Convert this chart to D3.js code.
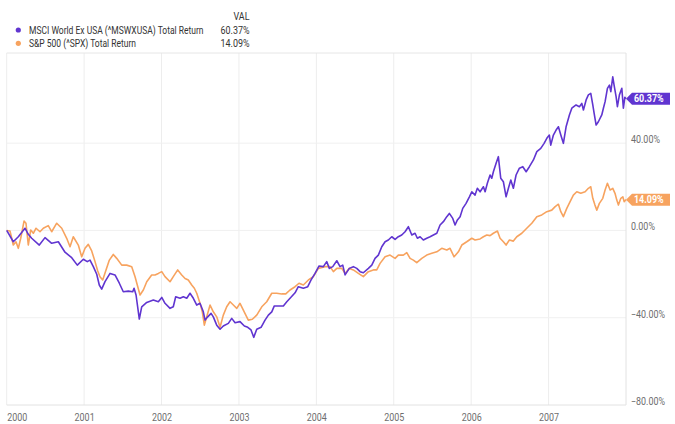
<!DOCTYPE html>
<html><head><meta charset="utf-8">
<script src="https://cdn.jsdelivr.net/npm/d3@7/dist/d3.min.js"></script>
<style>body{margin:0;background:#fff}svg{display:block}</style>
</head><body>
<svg id="chart" width="675" height="424"></svg>
<script>
const yearTicks = [2000,2001,2002,2003,2004,2005,2006,2007];
const yTicks = [-80,-40,0,40];
const seriesNames = ["MSCI World Ex USA (^MSWXUSA) Total Return","S&P 500 (^SPX) Total Return"];
const lastValues = [60.37, 14.09];
const colors = ["#6035d0","#f7a35f"];

const msci = [[2000.000,0],[2000.085,-5.2],[2000.150,-2.9],[2000.236,1.0],[2000.279,-1.8],[2000.323,-3.6],[2000.421,-6.7],[2000.495,-3.3],[2000.581,-5.9],[2000.667,-5.2],[2000.753,-10.0],[2000.840,-12.5],[2000.912,-15.9],[2000.990,-13.2],[2001.041,-14.3],[2001.076,-13.6],[2001.119,-16.6],[2001.163,-20.1],[2001.196,-25.0],[2001.227,-26.9],[2001.270,-23.5],[2001.335,-19.7],[2001.399,-20.4],[2001.455,-24.2],[2001.506,-28.1],[2001.571,-27.8],[2001.628,-28.1],[2001.645,-26.5],[2001.671,-29.6],[2001.713,-40.6],[2001.744,-35.0],[2001.809,-33.0],[2001.894,-31.9],[2001.959,-32.7],[2002.003,-30.7],[2002.045,-33.4],[2002.110,-35.7],[2002.152,-35.0],[2002.183,-30.4],[2002.239,-31.1],[2002.282,-30.4],[2002.326,-31.1],[2002.368,-28.8],[2002.411,-31.1],[2002.455,-34.2],[2002.497,-33.4],[2002.540,-37.3],[2002.562,-41.1],[2002.597,-39.6],[2002.640,-38.0],[2002.669,-39.6],[2002.713,-43.4],[2002.756,-45.3],[2002.798,-43.8],[2002.863,-42.6],[2002.907,-40.3],[2002.950,-42.3],[2003.014,-41.8],[2003.070,-43.8],[2003.114,-44.4],[2003.156,-45.6],[2003.191,-49.0],[2003.230,-45.3],[2003.286,-44.4],[2003.337,-41.1],[2003.380,-38.8],[2003.424,-37.3],[2003.457,-34.6],[2003.509,-34.6],[2003.574,-34.6],[2003.618,-32.7],[2003.660,-31.1],[2003.725,-28.6],[2003.767,-25.8],[2003.832,-26.5],[2003.889,-25.8],[2003.932,-22.7],[2003.983,-19.7],[2004.035,-16.3],[2004.090,-16.6],[2004.134,-14.3],[2004.168,-17.4],[2004.212,-16.6],[2004.264,-13.9],[2004.306,-16.6],[2004.341,-15.9],[2004.371,-20.4],[2004.426,-17.4],[2004.478,-16.6],[2004.522,-17.4],[2004.565,-18.9],[2004.607,-19.4],[2004.672,-17.4],[2004.716,-15.9],[2004.758,-12.8],[2004.801,-11.3],[2004.845,-7.5],[2004.888,-5.2],[2004.930,-4.4],[2004.974,-2.9],[2005.017,-4.1],[2005.059,-2.9],[2005.103,-2.1],[2005.146,-0.6],[2005.189,1.7],[2005.233,-2.1],[2005.275,-1.3],[2005.305,-3.6],[2005.340,-2.9],[2005.382,-4.4],[2005.426,-3.6],[2005.469,-2.9],[2005.512,-2.1],[2005.556,-1.3],[2005.598,2.5],[2005.641,4.0],[2005.685,6.3],[2005.718,7.8],[2005.762,5.5],[2005.792,2.5],[2005.822,4.8],[2005.857,6.3],[2005.891,10.1],[2005.934,12.4],[2005.977,15.4],[2006.008,17.7],[2006.050,16.2],[2006.080,19.3],[2006.115,17.7],[2006.158,20.0],[2006.180,17.7],[2006.209,21.6],[2006.244,25.4],[2006.266,23.9],[2006.287,26.9],[2006.322,30.8],[2006.351,33.8],[2006.382,23.9],[2006.416,22.3],[2006.451,15.4],[2006.481,19.3],[2006.512,23.1],[2006.545,19.3],[2006.580,25.4],[2006.623,28.5],[2006.667,29.2],[2006.710,26.9],[2006.752,29.2],[2006.804,32.3],[2006.848,36.1],[2006.899,37.6],[2006.942,39.9],[2006.977,42.2],[2007.010,43.7],[2007.028,39.1],[2007.062,43.7],[2007.097,46.0],[2007.127,47.5],[2007.158,43.7],[2007.191,39.9],[2007.226,47.5],[2007.269,52.9],[2007.300,56.0],[2007.355,57.5],[2007.398,56.7],[2007.429,58.2],[2007.450,55.2],[2007.485,59.8],[2007.514,62.1],[2007.545,62.8],[2007.571,57.5],[2007.588,53.7],[2007.614,48.3],[2007.643,49.8],[2007.687,52.9],[2007.708,56.0],[2007.730,59.0],[2007.760,65.1],[2007.786,66.6],[2007.804,63.6],[2007.829,70.4],[2007.846,66.6],[2007.872,61.3],[2007.889,56.7],[2007.915,62.1],[2007.946,65.1],[2007.966,56.0],[2007.985,61.0],[2008.000,60.37]];

const spx = [[2000.000,0],[2000.043,-0.3],[2000.065,-3.6],[2000.085,-6.7],[2000.120,-5.2],[2000.150,-8.2],[2000.181,-3.6],[2000.224,4.3],[2000.249,3.3],[2000.279,-6.7],[2000.310,0.2],[2000.344,-1.3],[2000.379,1.0],[2000.430,-0.6],[2000.473,1.0],[2000.537,2.2],[2000.581,-0.6],[2000.646,3.3],[2000.711,1.0],[2000.775,-3.6],[2000.818,-7.5],[2000.860,-2.9],[2000.925,-6.7],[2000.969,-12.1],[2001.012,-8.2],[2001.054,-6.4],[2001.098,-9.4],[2001.141,-14.3],[2001.176,-18.6],[2001.205,-21.2],[2001.240,-22.7],[2001.283,-18.1],[2001.326,-13.6],[2001.377,-11.0],[2001.421,-12.8],[2001.486,-15.9],[2001.550,-15.9],[2001.615,-16.6],[2001.658,-21.2],[2001.722,-29.6],[2001.765,-27.3],[2001.809,-23.5],[2001.873,-20.4],[2001.916,-20.4],[2001.959,-19.7],[2002.003,-18.9],[2002.045,-21.2],[2002.110,-23.5],[2002.152,-21.2],[2002.209,-18.1],[2002.261,-20.4],[2002.304,-22.0],[2002.346,-22.7],[2002.390,-25.0],[2002.424,-26.5],[2002.455,-28.8],[2002.497,-33.4],[2002.527,-37.3],[2002.553,-43.4],[2002.584,-39.6],[2002.627,-34.2],[2002.669,-37.3],[2002.713,-39.6],[2002.756,-44.4],[2002.798,-38.8],[2002.842,-35.0],[2002.885,-32.7],[2002.928,-34.2],[2002.972,-35.7],[2003.014,-33.4],[2003.057,-36.5],[2003.121,-41.1],[2003.173,-40.7],[2003.230,-38.8],[2003.295,-35.0],[2003.359,-32.7],[2003.424,-28.8],[2003.488,-28.8],[2003.553,-29.1],[2003.605,-29.1],[2003.660,-27.3],[2003.725,-25.8],[2003.776,-24.2],[2003.832,-25.0],[2003.897,-22.7],[2003.961,-21.2],[2004.026,-17.4],[2004.112,-16.6],[2004.177,-16.6],[2004.220,-18.9],[2004.264,-17.4],[2004.328,-17.4],[2004.371,-19.7],[2004.426,-17.4],[2004.478,-18.1],[2004.543,-19.7],[2004.607,-21.2],[2004.672,-18.9],[2004.736,-18.1],[2004.780,-18.1],[2004.823,-15.1],[2004.888,-12.1],[2004.952,-11.3],[2005.017,-12.8],[2005.059,-11.3],[2005.124,-11.3],[2005.168,-10.2],[2005.211,-12.8],[2005.253,-13.6],[2005.297,-14.8],[2005.362,-12.8],[2005.426,-11.3],[2005.491,-10.5],[2005.556,-9.8],[2005.620,-8.2],[2005.685,-9.0],[2005.727,-8.2],[2005.779,-12.1],[2005.835,-9.8],[2005.879,-6.7],[2005.943,-5.2],[2006.008,-3.6],[2006.050,-4.4],[2006.115,-3.9],[2006.158,-2.9],[2006.202,-2.1],[2006.244,-2.4],[2006.287,-1.3],[2006.339,-0.3],[2006.373,-3.6],[2006.416,-5.2],[2006.451,-6.7],[2006.494,-4.4],[2006.545,-4.9],[2006.589,-2.9],[2006.654,-1.3],[2006.718,1.0],[2006.783,3.3],[2006.848,6.3],[2006.912,7.1],[2006.977,8.6],[2007.041,9.3],[2007.085,10.9],[2007.127,12.0],[2007.158,8.6],[2007.191,6.3],[2007.235,10.1],[2007.278,13.2],[2007.320,16.2],[2007.364,17.7],[2007.416,17.0],[2007.472,17.7],[2007.514,19.3],[2007.545,20.0],[2007.571,14.7],[2007.599,11.6],[2007.623,9.3],[2007.656,12.4],[2007.700,14.7],[2007.730,18.5],[2007.760,21.6],[2007.795,18.5],[2007.829,19.3],[2007.858,17.0],[2007.881,13.9],[2007.902,11.6],[2007.933,14.7],[2007.959,15.4],[2007.976,13.2],[2008.000,14.09]];

const FONT = "Roboto, sans-serif";
// emulate the condensed face of the original by a horizontal scale about each text's anchor point
function condense(sel, s) {
  sel.each(function () {
    const x0 = +(this.getAttribute("x") || 0);
    d3.select(this).attr("transform", `translate(${x0},0) scale(${s},1) translate(${-x0},0)`);
  });
}
const svg = d3.select("#chart");
const L = 6.7, R = 626, T = 53, B = 405;
const x = d3.scaleLinear().domain([2000, 2008]).range([L, R]);
const y = d3.scaleLinear().domain([-80, 81.3]).range([B, T]);

// grid
const g = svg.append("g");
g.selectAll("line.v").data(yearTicks).join("line")
  .attr("x1", d => x(d)).attr("x2", d => x(d)).attr("y1", T).attr("y2", B)
  .attr("stroke", "#ededed").attr("stroke-width", 1);
g.selectAll("line.h").data(yTicks.filter(d => d > -80)).join("line")
  .attr("x1", L).attr("x2", R).attr("y1", d => y(d)).attr("y2", d => y(d))
  .attr("stroke", "#f0f0f0").attr("stroke-width", 1);
g.append("line").attr("x1", L).attr("x2", R).attr("y1", T).attr("y2", T).attr("stroke", "#e6e6e6");
g.append("line").attr("x1", L).attr("x2", R).attr("y1", B).attr("y2", B).attr("stroke", "#e2e2e2");
g.append("line").attr("x1", R).attr("x2", R).attr("y1", T).attr("y2", B).attr("stroke", "#e2e2e2");

// axes labels
const yAxis = d3.axisRight(y).tickValues(yTicks).tickSize(0).tickPadding(0)
  .tickFormat(d => d3.format(".2f")(d) + "%");
const ya = svg.append("g").attr("transform", `translate(${R + 5},0)`).call(yAxis);
ya.select(".domain").remove();
ya.selectAll("text").attr("font-family", FONT).attr("font-size", 10.5).attr("fill", "#6e6e6e")
  .attr("dy", "-0.05em").call(condense, 0.85);

const xAxis = d3.axisBottom(x).tickValues(yearTicks).tickSize(0).tickPadding(0).tickFormat(d => String(d));
const xa = svg.append("g").attr("transform", `translate(0,${B + 6})`).call(xAxis);
xa.select(".domain").remove();
xa.selectAll("text").attr("font-family", FONT).attr("font-size", 10.5).attr("fill", "#6e6e6e")
  .attr("dy", "0.95em")
  .attr("text-anchor", (d, i) => i === 0 ? "start" : "middle").call(condense, 0.85);

// lines
const line = d3.line().x(d => x(d[0])).y(d => y(d[1]));
[spx, msci].forEach((s, i) => {
  svg.append("path").datum(s).attr("d", line).attr("fill", "none")
    .attr("stroke", i === 0 ? colors[1] : colors[0]).attr("stroke-width", 1.6)
    .attr("stroke-linejoin", "round");
});

// end tags
lastValues.forEach((v, i) => {
  const tx = x(2008), ty = y(v);
  svg.append("path")
    .attr("d", `M${tx},${ty} L${tx + 6},${ty - 6} H${tx + 44} V${ty + 6} H${tx + 6} Z`)
    .attr("fill", colors[i]);
  svg.append("text").attr("x", tx + 8).attr("y", ty + 3.8)
    .attr("font-family", FONT).attr("font-size", 10.5).attr("font-weight", "bold")
    .attr("fill", "#fff").text(d3.format(".2f")(v) + "%").call(condense, 0.85);
});

// legend
const lg = svg.append("g").attr("font-family", FONT).attr("font-size", 10.5).attr("fill", "#333");
lg.append("text").attr("x", 249.5).attr("y", 19.8).attr("text-anchor", "end").text("VAL").call(condense, 0.85);
seriesNames.forEach((n, i) => {
  const yy = 30 + i * 13.3;
  lg.append("circle").attr("cx", 18.3).attr("cy", yy).attr("r", 2.6).attr("fill", colors[i]);
  lg.append("text").attr("x", 29).attr("y", yy + 3.7).text(n).call(condense, 0.81);
  lg.append("text").attr("x", 249.5).attr("y", yy + 3.7).attr("text-anchor", "end")
    .text(d3.format(".2f")(lastValues[i]) + "%").call(condense, 0.85);
});
</script>
</body></html>
